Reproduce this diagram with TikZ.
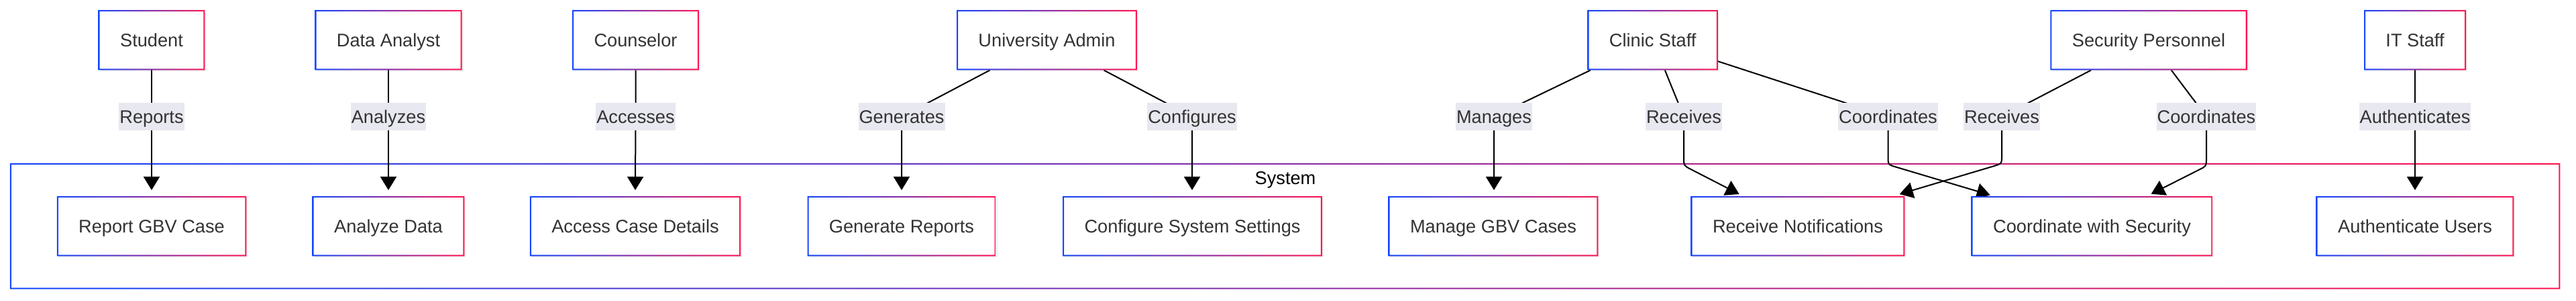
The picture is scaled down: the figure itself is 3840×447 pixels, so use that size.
\documentclass[tikz,border=0pt]{standalone}
\usepackage{fontspec}
\setmainfont{Liberation Sans}
\usetikzlibrary{arrows.meta,shadows,calc}
\pgfdeclarelayer{bg}
\pgfsetlayers{bg,main}
\definecolor{gblue}{RGB}{20,70,255}
\definecolor{gred}{RGB}{255,20,80}
\definecolor{txt}{HTML}{333333}
\definecolor{lblbg}{HTML}{E8E8F0}
\newcommand\gring[1]{\shade[left color=gblue,right color=gred,even odd rule]
  (#1.south west) rectangle (#1.north east)
  ([xshift=1pt,yshift=1pt]#1.south west) rectangle ([xshift=-1pt,yshift=-1pt]#1.north east);}
\tikzset{
  box/.style={fill=white, text=txt, minimum height=44.35pt, inner xsep=16pt, inner ysep=0pt,
    text height=9.75pt, text depth=0pt, font=\fontsize{13.6pt}{16pt}\selectfont,
    drop shadow={shadow xshift=1.2pt, shadow yshift=-1.2pt, opacity=0.12}},
  elabel/.style={fill=lblbg, text=txt, minimum height=20.35pt, inner xsep=0.5pt, inner ysep=0pt,
    text height=9.75pt, text depth=0pt, font=\fontsize{13.6pt}{16pt}\selectfont},
  edge/.style={line width=1pt, draw=black},
  arr/.style={edge, -{Triangle[width=12pt,length=10pt]}},
}
\begin{document}
\begin{tikzpicture}[x=0.5pt,y=-0.5pt]
\useasboundingbox (0,0) rectangle (3840,447);
\begin{pgfonlayer}{bg}
\fill[white] (0,0) rectangle (3840,447);
\end{pgfonlayer}
% system cluster
\node[minimum width=1900.35pt, minimum height=93.35pt, inner sep=0pt] (sys) at (1915.65,336.65) {};
\begin{pgfonlayer}{bg}
\gring{sys}
\end{pgfonlayer}
\node[text=black, font=\fontsize{13.6pt}{16pt}\selectfont, text height=9.75pt, text depth=0pt, inner sep=0pt] (syslbl) at (1916,264.7) {System};
% actors
\node[box] (st) at (226,59.7) {Student};
\node[box] (da) at (579,59.7) {Data Analyst};
\node[box] (co) at (947.5,59.7) {Counselor};
\node[box] (ua) at (1560.5,59.7) {University Admin};
\node[box] (cl) at (2463.7,59.7) {Clinic Staff};
\node[box] (sp) at (3203,59.7) {Security Personnel};
\node[box] (it) at (3600,59.7) {IT Staff};
% use cases
\node[box] (rg) at (226,336.7) {Report GBV Case};
\node[box] (ad) at (579,336.7) {Analyze Data};
\node[box] (ac) at (947,336.7) {Access Case Details};
\node[box] (gr) at (1344,336.7) {Generate Reports};
\node[box] (cf) at (1777.5,336.7) {Configure System Settings};
\node[box] (mg) at (2226,336.7) {Manage GBV Cases};
\node[box] (rn) at (2680,336.7) {Receive Notifications};
\node[box] (cs) at (3118.5,336.7) {Coordinate with Security};
\node[box] (au) at (3600,336.7) {Authenticate Users};
\foreach \n in {st,da,co,ua,cl,sp,it,rg,ad,ac,gr,cf,mg,rn,cs,au}{\gring{\n}}
% edge labels
\node[elabel] (lrep) at (226,173.7) {Reports};
\node[elabel] (lana) at (579,173.7) {Analyzes};
\node[elabel] (lacc) at (947.5,173.7) {Accesses};
\node[elabel] (lgen) at (1344,173.7) {Generates};
\node[elabel] (lcfg) at (1777,173.7) {Configures};
\node[elabel] (lman) at (2227,173.7) {Manages};
\node[elabel] (lrec1) at (2510,173.7) {Receives};
\node[elabel] (lcrd1) at (2814.5,173.7) {Coordinates};
\node[elabel] (lrec2) at (2984,173.7) {Receives};
\node[elabel] (lcrd2) at (3289,173.7) {Coordinates};
\node[elabel] (laut) at (3600,173.7) {Authenticates};
% arrow end points
\coordinate (t1) at ($(rn.north west)+(72,-3)$);
\coordinate (t2) at ($(cs.north west)+(28,-1.6)$);
\coordinate (t3) at ($(rn.north east)+(-7.7,-3)$);
\coordinate (t4) at ($(cs.north west)+(268,-3.3)$);
\begin{pgfonlayer}{bg}
\draw[arr] (st) -- (lrep.center) -- ([yshift=4.5pt]rg.north);
\draw[arr] (da) -- (lana.center) -- ([yshift=4.5pt]ad.north);
\draw[arr] (co) -- (lacc.center) -- ([yshift=4.5pt]ac.north);
\draw[arr] (ua) -- (lgen.center) -- ([yshift=4.5pt]gr.north);
\draw[arr] (ua) -- (lcfg.center) -- ([yshift=4.5pt]lcfg.center |- cf.north);
\draw[arr] (cl) -- (lman.center) -- ([yshift=4.5pt]lman.center |- mg.north);
\draw[arr] (cl) -- (lrec1.center) -- (2510,235) .. controls (2510,246.5) .. (2520.6,252) -- (t1);
\draw[arr] (cl) -- (lcrd1.center) -- (2814.5,233) .. controls (2814.5,245) .. (2826,248.5) -- (t2);
\draw[arr] (sp) -- (lrec2.center) -- (2984,231.5) .. controls (2984,243.5) .. (2972.5,247.1) -- (t3);
\draw[arr] (sp) -- (lcrd2.center) -- (3289,235.3) .. controls (3289,247.3) .. (3278.2,252.6) -- (t4);
\draw[arr] (it) -- (laut.center) -- ([yshift=4.5pt]au.north);
\end{pgfonlayer}
\end{tikzpicture}
\end{document}
